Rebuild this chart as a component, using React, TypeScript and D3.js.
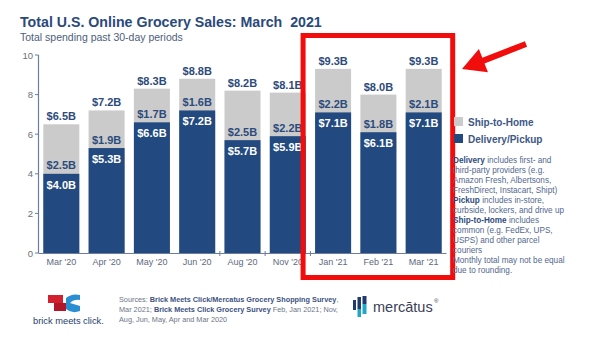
import React from "react";
import * as d3 from "d3";

const categories = ["Mar '20", "Apr '20", "May '20", "Jun '20", "Aug '20", "Nov '20", "Jan '21", "Feb '21", "Mar '21"];
const deliveryPickup = [4.0, 5.3, 6.6, 7.2, 5.7, 5.9, 7.1, 6.1, 7.1];
const shipToHome = [2.5, 1.9, 1.7, 1.6, 2.5, 2.2, 2.2, 1.8, 2.1];
const totals = [6.5, 7.2, 8.3, 8.8, 8.2, 8.1, 9.3, 8.0, 9.3];
const yTicks = [0, 2, 4, 6, 8, 10];
const highlighted = ["Jan '21", "Feb '21", "Mar '21"];

const notes: { b?: string; t: string }[] = [
  { b: "Delivery", t: " includes first- and" },
  { t: "third-party providers (e.g." },
  { t: "Amazon Fresh, Albertsons," },
  { t: "FreshDirect, Instacart, Shipt)" },
  { b: "Pickup", t: " includes in-store," },
  { t: "curbside, lockers, and drive up" },
  { b: "Ship-to-Home", t: " includes" },
  { t: "common (e.g. FedEx, UPS," },
  { t: "USPS) and other parcel" },
  { t: "couriers" },
  { t: "Monthly total may not be equal" },
  { t: "due to rounding." },
];

const NAVY = "#224a80";
const GRAY = "#cbcbcb";
const TEXT_NAVY = "#2c4b7c";
const AXIS = "#6b7f9c";
const FONT = "'Liberation Sans', Arial, sans-serif";

export default function App() {
  const x = d3.scaleBand<string>().domain(categories).range([38.5, 446.5]).paddingInner(0.205).paddingOuter(0.106);
  const y = d3.scaleLinear().domain([0, 10]).range([253, 55]);
  const bw = x.bandwidth();

  const hiStart = x(highlighted[0])! - 12;
  const hiEnd = x(highlighted[highlighted.length - 1])! + bw + 11;

  // arrow
  const tip = [462, 69];
  const tail = [526, 44];
  const dx = tail[0] - tip[0], dy = tail[1] - tip[1];
  const len = Math.hypot(dx, dy);
  const ux = dx / len, uy = dy / len;
  const nx = -uy, ny = ux;
  const hl = 23, hw = 12.5, sw = 3;
  const bx = tip[0] + ux * hl, by = tip[1] + uy * hl;
  const arrowPts = [
    [tip[0], tip[1]],
    [bx + nx * hw, by + ny * hw],
    [bx + nx * sw, by + ny * sw],
    [tail[0] + nx * sw, tail[1] + ny * sw],
    [tail[0] - nx * sw, tail[1] - ny * sw],
    [bx - nx * sw, by - ny * sw],
    [bx - nx * hw, by - ny * hw],
  ];

  const boundaryTicks = [4, 5, 6].map((i) => x(categories[i])! - (x.step() - bw) / 2);

  return (
    <svg width={600} height={337} style={{ position: "fixed", left: 0, top: 0, background: "#fff" }} fontFamily={FONT}>
      <rect width={600} height={337} fill="#fff" />
      <text x={20} y={27} fontSize={14.2} fontWeight="bold" fill="#2a4a7c" style={{ whiteSpace: "pre" }}>Total U.S. Online Grocery Sales: March  2021</text>
      <text x={20} y={41} fontSize={10.5} fill="#4d5d7d">Total spending past 30-day periods</text>

      {/* y axis */}
      <line x1={38.5} x2={38.5} y1={y(10)} y2={y(0)} stroke={AXIS} strokeWidth={1.2} />
      {yTicks.map((t) => (
        <g key={t}>
          <line x1={35} x2={38.5} y1={y(t)} y2={y(t)} stroke={AXIS} strokeWidth={1} />
          <text x={33} y={y(t) + 3.5} fontSize={9.5} textAnchor="end" fill="#6a6f7a">{t}</text>
        </g>
      ))}

      {/* bars */}
      {categories.map((c, i) => {
        const x0 = x(c)!;
        const cx = x0 + bw / 2;
        return (
          <g key={c}>
            <rect x={x0} width={bw} y={y(totals[i])} height={y(0) - y(totals[i])} fill={GRAY} />
            <rect x={x0} width={bw} y={y(deliveryPickup[i])} height={y(0) - y(deliveryPickup[i])} fill={NAVY} />
            <text x={cx} y={y(totals[i]) - 4} textAnchor="middle" fontSize={11} fontWeight="bold" fill={TEXT_NAVY}>${totals[i].toFixed(1)}B</text>
            <text x={cx} y={y(deliveryPickup[i]) - 4.5} textAnchor="middle" fontSize={11} fontWeight="bold" fill={TEXT_NAVY}>${shipToHome[i].toFixed(1)}B</text>
            <text x={cx} y={y(deliveryPickup[i]) + 15} textAnchor="middle" fontSize={11} fontWeight="bold" fill="#fff">${deliveryPickup[i].toFixed(1)}B</text>
            <text x={cx} y={265} textAnchor="middle" fontSize={9} fill="#5d6a80">{c}</text>
          </g>
        );
      })}

      {/* x axis */}
      <line x1={38.5} x2={446.5} y1={253.5} y2={253.5} stroke={AXIS} strokeWidth={1.2} />
      {boundaryTicks.map((bt, i) => (
        <line key={i} x1={bt} x2={bt} y1={251} y2={256} stroke={AXIS} strokeWidth={1} />
      ))}

      {/* highlight box */}
      <rect x={hiStart} y={35.5} width={hiEnd - hiStart} height={242} fill="none" stroke="#f20d0d" strokeWidth={5} />

      {/* arrow */}
      <polygon points={arrowPts.map((p) => p.join(",")).join(" ")} fill="#f20d0d" />

      {/* legend */}
      <rect x={454} y={117} width={9} height={9} fill={GRAY} />
      <text x={468} y={126} fontSize={10} fontWeight="bold" fill="#3d5786">Ship-to-Home</text>
      <rect x={454} y={134} width={9} height={9} fill={NAVY} />
      <text x={468} y={143} fontSize={10} fontWeight="bold" fill="#3d5786">Delivery/Pickup</text>

      {notes.map((n, i) => (
        <text key={i} x={453} y={163 + i * 10} fontSize={8.2} fill="#52678f">
          {n.b ? <tspan fontWeight="bold" fill="#2f4b7e">{n.b}</tspan> : null}
          {n.t}
        </text>
      ))}

      {/* brick meets click logo */}
      <g>
        <rect x={48} y={295} width={15} height={8} fill="#d3202f" />
        <rect x={54} y={303} width={12} height={8} fill="#b0182a" />
        <path d="M66,298 Q72,293 80,295 L80,300 Q74,299 70,303 L80,306 L80,311 Q72,314 66,309 Z" fill="#2a8ed3" />
        <text x={33} y={324} fontSize={9.3} fill="#253d6e">brick meets click.</text>
      </g>

      {/* sources */}
      <text x={119} y={302} fontSize={7.3} fill="#6c7488">
        Sources: <tspan fontWeight="bold" fill="#3c5282">Brick Meets Click/Mercatus Grocery Shopping Survey</tspan>,
      </text>
      <text x={119} y={312} fontSize={7.3} fill="#6c7488">
        Mar 2021; <tspan fontWeight="bold" fill="#3c5282">Brick Meets Click Grocery Survey</tspan> Feb, Jan 2021; Nov,
      </text>
      <text x={119} y={322} fontSize={7.3} fill="#6c7488">Aug, Jun, May, Apr and Mar 2020</text>

      {/* mercatus logo */}
      <g>
        <rect x={353} y={300} width={3} height={10} fill="#1f3b6e" />
        <rect x={357.5} y={297} width={3.5} height={12} fill="#1f3b6e" />
        <rect x={357.5} y={309} width={3.5} height={8} fill="#21a6c9" />
        <rect x={362.5} y={296} width={4} height={8} fill="#1f3b6e" />
        <rect x={362.5} y={304} width={4} height={10} fill="#21a6c9" />
        <text x={373} y={312} fontSize={14.5} fill="#3a4258">mercātus</text>
        <text x={434} y={303} fontSize={6} fill="#3a4258">®</text>
      </g>
    </svg>
  );
}
